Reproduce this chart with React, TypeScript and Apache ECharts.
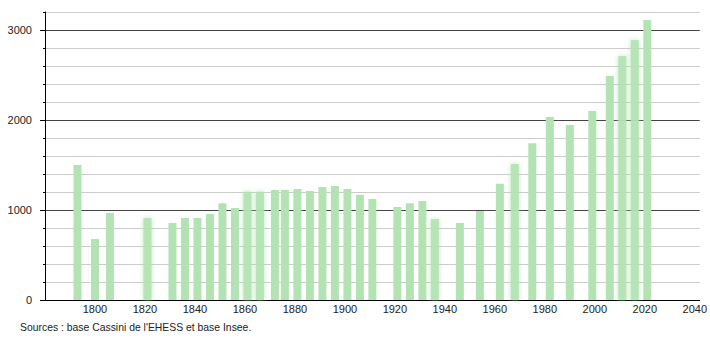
import React, { useEffect, useRef } from "react";
import * as echarts from "echarts";

const years = [1793, 1800, 1806, 1821, 1831, 1836, 1841, 1846, 1851, 1856, 1861, 1866, 1872, 1876, 1881, 1886, 1891, 1896, 1901, 1906, 1911, 1921, 1926, 1931, 1936, 1946, 1954, 1962, 1968, 1975, 1982, 1990, 1999, 2006, 2011, 2016, 2021];
const population = [1500, 678, 967, 911, 856, 911, 911, 956, 1074, 1022, 1204, 1204, 1222, 1222, 1233, 1211, 1256, 1267, 1233, 1170, 1122, 1033, 1074, 1100, 900, 856, 989, 1293, 1511, 1741, 2033, 1944, 2100, 2489, 2711, 2889, 3111];
const blurredYears = [1821, 1861, 1866, 1936, 1968, 2011, 2016];
const majorYTicks = [0, 1000, 2000, 3000];
const sourceText = "Sources : base Cassini de l'EHESS et base Insee.";

const BAR = "#b3e3b3";
const FONT = "'Liberation Sans', Arial, sans-serif";

export default function App() {
  const ref = useRef<HTMLDivElement>(null);
  useEffect(() => {
    document.body.style.margin = "0";
    const chart = echarts.init(ref.current!, undefined, { renderer: "svg" });
    const data = years.map((y, i) => {
      const blur = blurredYears.includes(y);
      return {
        value: [y, population[i]],
        itemStyle: blur
          ? { color: BAR, shadowBlur: 5, shadowColor: "rgba(170,225,170,0.9)", opacity: 0.85 }
          : { color: BAR },
      };
    });
    chart.setOption({
      animation: false,
      grid: { left: 45, right: 10, top: 12, bottom: 40, containLabel: false },
      xAxis: {
        type: "value",
        min: 1780,
        max: 2042,
        interval: 20,
        axisLine: { show: true, lineStyle: { color: "#000", width: 1 } },
        axisTick: { show: false },
        splitLine: { show: false },
        axisLabel: {
          showMinLabel: false,
          showMaxLabel: false,
          color: "#222",
          fontFamily: FONT,
          fontSize: 11,
          margin: 3,
          formatter: (v: number) => String(v),
        },
      },
      yAxis: [
        {
          type: "value",
          min: 0,
          max: 3200,
          interval: 200,
          position: "left",
          axisLine: { show: true, lineStyle: { color: "#000", width: 1 } },
          axisTick: { show: true, length: 2, lineStyle: { color: "#000" } },
          axisLabel: {
            color: "#222",
            fontFamily: FONT,
            fontSize: 11,
            margin: 13,
            formatter: (v: number) => (majorYTicks.includes(v) ? String(v) : ""),
          },
          splitLine: {
            show: true,
            lineStyle: { color: ["#444", "#cccccc", "#cccccc", "#cccccc", "#cccccc"], width: 1 },
          },
        },
        {
          type: "value",
          min: 0,
          max: 3200,
          interval: 1000,
          position: "left",
          axisLine: { show: false },
          axisTick: { show: true, length: 5, customValues: majorYTicks, lineStyle: { color: "#000" } },
          axisLabel: { show: false },
          splitLine: { show: false },
        },
      ],
      series: [
        {
          type: "bar",
          yAxisIndex: 0,
          barWidth: 8,
          data,
        },
      ],
      graphic: [
        {
          type: "text",
          left: 20,
          top: 322,
          style: { text: sourceText, fill: "#222", font: `10.4px ${FONT}` },
        },
      ],
    });
    return () => chart.dispose();
  }, []);
  return <div ref={ref} style={{ width: 710, height: 340 }} />;
}
